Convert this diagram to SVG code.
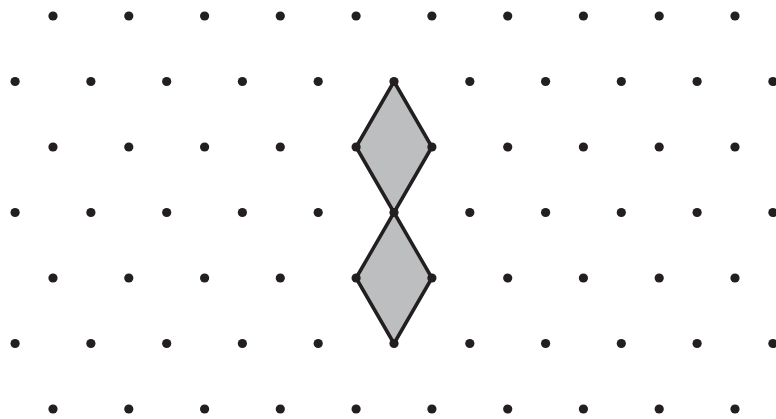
<svg xmlns="http://www.w3.org/2000/svg" xmlns:xlink="http://www.w3.org/1999/xlink" width="776" height="419" viewBox="0 0 776 419">
<style>
.shape{fill:#bcbec0;stroke:#231f20;stroke-width:3.5;stroke-linejoin:round}
.dot{fill:#231f20}
</style>
<defs>
<circle id="d" class="dot" r="4.6"/>
</defs>
<rect width="776" height="419" fill="#ffffff"/>
<g id="rhombus-top"><polygon class="shape" points="394,81.5 431.9,147 394,212.5 356.1,147"/></g>
<g id="rhombus-bottom"><polygon class="shape" points="394,212.5 431.9,278 394,343.5 356.1,278"/></g>
<g id="dots">
<g id="row0" transform="translate(0,16)">
<use xlink:href="#d" x="53"/><use xlink:href="#d" x="128.8"/><use xlink:href="#d" x="204.6"/><use xlink:href="#d" x="280.3"/><use xlink:href="#d" x="356.1"/><use xlink:href="#d" x="431.9"/><use xlink:href="#d" x="507.7"/><use xlink:href="#d" x="583.4"/><use xlink:href="#d" x="659.2"/><use xlink:href="#d" x="735"/>
</g>
<g id="row1" transform="translate(0,81.5)">
<use xlink:href="#d" x="15.1"/><use xlink:href="#d" x="90.9"/><use xlink:href="#d" x="166.7"/><use xlink:href="#d" x="242.4"/><use xlink:href="#d" x="318.2"/><use xlink:href="#d" x="394"/><use xlink:href="#d" x="469.8"/><use xlink:href="#d" x="545.6"/><use xlink:href="#d" x="621.3"/><use xlink:href="#d" x="697.1"/><use xlink:href="#d" x="772.9"/>
</g>
<g id="row2" transform="translate(0,147)">
<use xlink:href="#d" x="53"/><use xlink:href="#d" x="128.8"/><use xlink:href="#d" x="204.6"/><use xlink:href="#d" x="280.3"/><use xlink:href="#d" x="356.1"/><use xlink:href="#d" x="431.9"/><use xlink:href="#d" x="507.7"/><use xlink:href="#d" x="583.4"/><use xlink:href="#d" x="659.2"/><use xlink:href="#d" x="735"/>
</g>
<g id="row3" transform="translate(0,212.5)">
<use xlink:href="#d" x="15.1"/><use xlink:href="#d" x="90.9"/><use xlink:href="#d" x="166.7"/><use xlink:href="#d" x="242.4"/><use xlink:href="#d" x="318.2"/><use xlink:href="#d" x="394"/><use xlink:href="#d" x="469.8"/><use xlink:href="#d" x="545.6"/><use xlink:href="#d" x="621.3"/><use xlink:href="#d" x="697.1"/><use xlink:href="#d" x="772.9"/>
</g>
<g id="row4" transform="translate(0,278)">
<use xlink:href="#d" x="53"/><use xlink:href="#d" x="128.8"/><use xlink:href="#d" x="204.6"/><use xlink:href="#d" x="280.3"/><use xlink:href="#d" x="356.1"/><use xlink:href="#d" x="431.9"/><use xlink:href="#d" x="507.7"/><use xlink:href="#d" x="583.4"/><use xlink:href="#d" x="659.2"/><use xlink:href="#d" x="735"/>
</g>
<g id="row5" transform="translate(0,343.5)">
<use xlink:href="#d" x="15.1"/><use xlink:href="#d" x="90.9"/><use xlink:href="#d" x="166.7"/><use xlink:href="#d" x="242.4"/><use xlink:href="#d" x="318.2"/><use xlink:href="#d" x="394"/><use xlink:href="#d" x="469.8"/><use xlink:href="#d" x="545.6"/><use xlink:href="#d" x="621.3"/><use xlink:href="#d" x="697.1"/><use xlink:href="#d" x="772.9"/>
</g>
<g id="row6" transform="translate(0,409)">
<use xlink:href="#d" x="53"/><use xlink:href="#d" x="128.8"/><use xlink:href="#d" x="204.6"/><use xlink:href="#d" x="280.3"/><use xlink:href="#d" x="356.1"/><use xlink:href="#d" x="431.9"/><use xlink:href="#d" x="507.7"/><use xlink:href="#d" x="583.4"/><use xlink:href="#d" x="659.2"/><use xlink:href="#d" x="735"/>
</g>
</g>
</svg>
